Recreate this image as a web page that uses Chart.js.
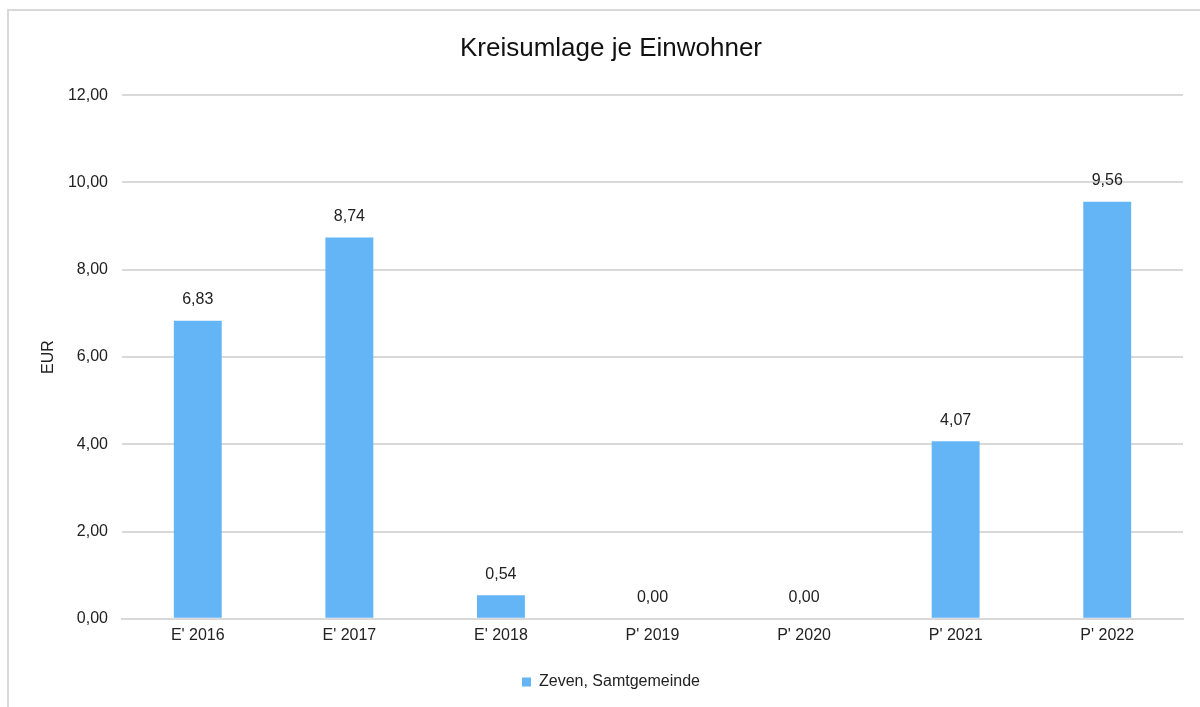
<!DOCTYPE html>
<html>
<head>
<meta charset="utf-8">
<script src="https://cdn.jsdelivr.net/npm/chart.js@4"></script>
<style>
  html, body { margin: 0; padding: 0; background: #fff; overflow: hidden; }
  #wrap { position: relative; width: 1200px; height: 707px; overflow: hidden; }
  #frame {
    position: absolute; left: 7px; top: 9px; width: 1300px; height: 720px;
    border: 2px solid #d9d9d9; box-sizing: border-box;
  }
  canvas { position: absolute; left: 0; top: 0; }
</style>
</head>
<body>
<div id="wrap">
  <div id="frame"></div>
  <canvas id="chart" width="1200" height="707"></canvas>
</div>
<script>
const categories = ["E' 2016", "E' 2017", "E' 2018", "P' 2019", "P' 2020", "P' 2021", "P' 2022"];
const values = [6.83, 8.74, 0.54, 0.00, 0.00, 4.07, 9.56];
const seriesName = "Zeven, Samtgemeinde";
const yTicks = [0, 2, 4, 6, 8, 10, 12];

const fmt = v => v.toFixed(2).replace(".", ",");

// Wert über jeden Balken schreiben
const valueLabels = {
  id: "valueLabels",
  afterDatasetsDraw(chart) {
    const ctx = chart.ctx;
    const meta = chart.getDatasetMeta(0);
    ctx.save();
    ctx.font = "16px 'Liberation Sans', Arial, sans-serif";
    ctx.fillStyle = "#222";
    ctx.textAlign = "center";
    ctx.textBaseline = "middle";
    meta.data.forEach((bar, i) => {
      ctx.fillText(fmt(values[i]), bar.x, bar.y - 21);
    });
    ctx.restore();
  }
};

Chart.defaults.font.family = "'Liberation Sans', Arial, sans-serif";
Chart.defaults.color = "#222";

new Chart(document.getElementById("chart"), {
  type: "bar",
  data: {
    labels: categories,
    datasets: [{
      label: seriesName,
      data: values,
      backgroundColor: "#64b5f6",
      borderWidth: 0,
      categoryPercentage: 1,
      barPercentage: 0.316
    }]
  },
  options: {
    responsive: false,
    animation: false,
    layout: { padding: { left: 39, right: 17, top: 33, bottom: 7 } },
    plugins: {
      title: {
        display: true,
        text: "Kreisumlage je Einwohner",
        font: { size: 26, weight: "normal" },
        color: "#111",
        padding: { top: 0, bottom: 31 }
      },
      legend: {
        position: "bottom",
        labels: { boxWidth: 9, boxHeight: 9, font: { size: 16 }, padding: 10 }
      },
      tooltip: { enabled: false }
    },
    scales: {
      x: {
        grid: { display: false, drawTicks: false },
        border: { color: "#d9d9d9", width: 2 },
        ticks: { font: { size: 16 }, padding: 7 },
        afterFit: axis => { axis.height += 12; }
      },
      y: {
        min: 0,
        max: 12,
        afterBuildTicks: axis => { axis.ticks = yTicks.map(v => ({ value: v })); },
        grid: { color: "#d9d9d9", lineWidth: 2, drawTicks: false },
        border: { display: false },
        ticks: { font: { size: 16 }, padding: 14, callback: v => fmt(v) },
        title: { display: true, text: "EUR", font: { size: 16 }, padding: { top: 0, bottom: 10 } },
        afterFit: axis => { axis.width = 83; }
      }
    }
  },
  plugins: [valueLabels]
});
</script>
</body>
</html>
